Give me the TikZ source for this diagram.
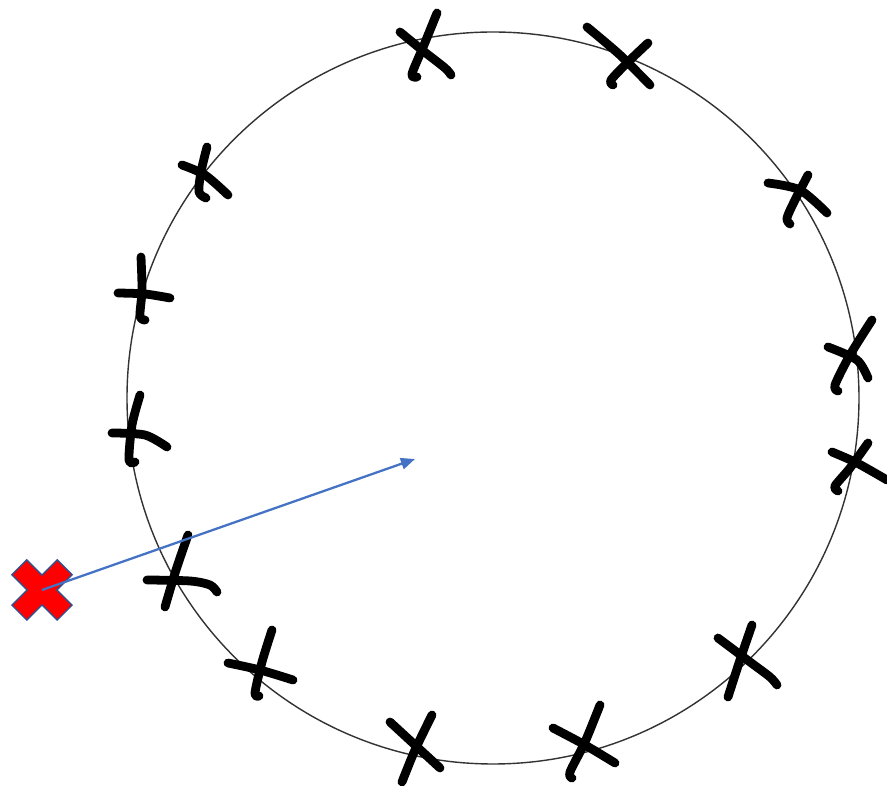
\documentclass[tikz,border=0pt]{standalone}
\usetikzlibrary{arrows.meta}
\definecolor{arrowblue}{HTML}{4472C4}
\definecolor{edgeblue}{HTML}{2F528F}
\begin{document}
\begin{tikzpicture}[x=0.02cm, y=-0.02cm,
		pen/.style={line width=5pt, line cap=round, line join=round, smooth},
		ring/.style={line width=0.8pt, black!80}]
		\useasboundingbox (0,0) rectangle (887,786);
		\draw[ring] (493,398) circle (366);
		
		% hand marks
		\draw[pen] plot coordinates {(437,13) (424,45) (412,74) (417,77)};
		\draw[pen] plot coordinates {(400,32) (422,50) (445,68) (451,75)};
		\draw[pen] plot coordinates {(587,27) (620,55) (650,85)};
		\draw[pen] plot coordinates {(648,43) (628,62) (611,80) (613,85)};
		\draw[pen] plot coordinates {(207,147) (201,172) (199,192) (206,198)};
		\draw[pen] plot coordinates {(182,165) (205,175) (228,195)};
		\draw[pen] plot coordinates {(141,257) (142,290) (140,316) (145,320)};
		\draw[pen] plot coordinates {(118,293) (145,294) (170,298)};
		\draw[pen] plot coordinates {(140,395) (132,425) (129,460) (135,462)};
		\draw[pen] plot coordinates {(112,433) (145,435) (167,447)};
		\draw[pen] plot coordinates {(808,175) (795,200) (787,218) (790,224)};
		\draw[pen] plot coordinates {(768,183) (800,190) (827,213)};
		\draw[pen] plot coordinates {(872,320) (850,355) (835,385) (838,391)};
		\draw[pen] plot coordinates {(828,347) (857,360) (868,378)};
		\draw[pen] plot coordinates {(868,443) (850,468) (835,486) (838,491)};
		\draw[pen] plot coordinates {(832,452) (857,463) (887,480)};
		\draw[pen] plot coordinates {(188,535) (176,570) (165,607)};
		\draw[pen] plot coordinates {(147,580) (190,581) (210,585) (217,592)};
		\draw[pen] plot coordinates {(272,630) (262,662) (255,693) (259,696)};
		\draw[pen] plot coordinates {(228,663) (260,670) (293,680)};
		\draw[pen] plot coordinates {(432,715) (415,750) (402,782)};
		\draw[pen] plot coordinates {(390,722) (415,745) (440,768)};
		\draw[pen] plot coordinates {(600,705) (585,742) (570,772) (572,778)};
		\draw[pen] plot coordinates {(553,728) (585,745) (615,763)};
		\draw[pen] plot coordinates {(752,625) (740,660) (728,697)};
		\draw[pen] plot coordinates {(718,638) (750,662) (770,677) (777,685)};
		
		% outside point
		\coordinate (src) at (42,590);
		\coordinate (aim) at (415,459);
		\begin{scope}[shift={(src)}, rotate=45]
			\filldraw[fill=red, draw=edgeblue, line width=0.8pt] (10.5,10.5) -- (32,10.5) -- (32,-10.5) -- (10.5,-10.5) -- (10.5,-32) -- (-10.5,-32) -- (-10.5,-10.5) -- (-32,-10.5) -- (-32,10.5) -- (-10.5,10.5) -- (-10.5,32) -- (10.5,32) -- cycle;
		\end{scope}
		\draw[arrowblue, line width=1.3pt, -{Triangle[length=8pt, width=6.5pt]}] (src) -- (aim);
	\end{tikzpicture}
\end{document}
